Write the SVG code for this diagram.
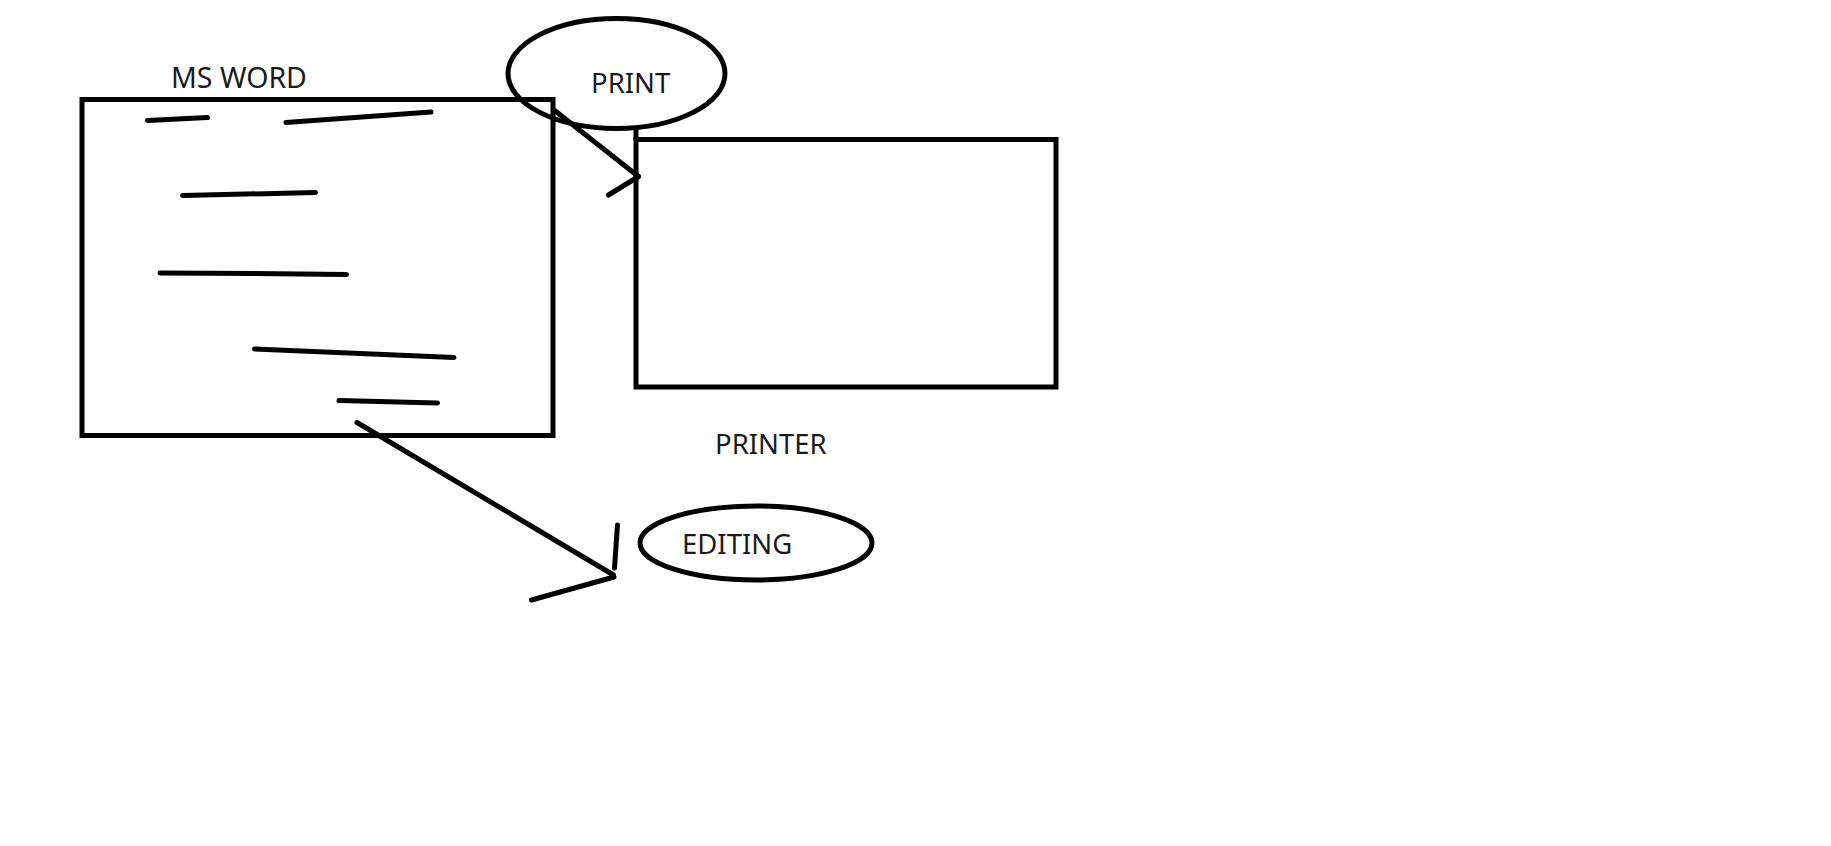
<svg xmlns="http://www.w3.org/2000/svg" width="1831" height="846" viewBox="0 0 1831 846">
<style>
.shape{fill:none;stroke:#000;stroke-width:5}
.ink{fill:none;stroke:#000;stroke-width:5;stroke-linecap:round;stroke-linejoin:round}
.lbl{font-family:"Noto Sans","Open Sans",sans-serif;font-size:27.5px;fill:#1a1a1a}
</style>
<rect width="1831" height="846" fill="#fff"/>
<g id="msword">
<rect class="shape" x="82" y="99.5" width="471" height="336"/>
<text class="lbl" x="171" y="88" style="font-size:28.5px">MS WORD</text>
<polyline class="ink" points="147.5,120.5 207.5,117.5"/>
<polyline class="ink" points="286,122.5 431,112"/>
<polyline class="ink" points="182.5,195.5 315.5,192.5"/>
<polyline class="ink" points="160,273 253,273.5 346.5,274.5"/>
<polyline class="ink" points="254.5,349 454,357.5"/>
<polyline class="ink" points="339,400.5 437.5,403"/>
</g>
<g id="print">
<ellipse class="shape" cx="616.5" cy="73.5" rx="108.5" ry="55"/>
<text class="lbl" x="591" y="93.3">PRINT</text>
</g>
<g id="printer">
<rect class="shape" x="636" y="139.5" width="420" height="247.5"/>
<line class="shape" x1="636" y1="128" x2="636" y2="140"/>
<text class="lbl" x="715" y="453.5">PRINTER</text>
</g>
<g id="editing">
<ellipse class="shape" cx="756" cy="543" rx="116" ry="37"/>
<text class="lbl" x="682" y="554">EDITING</text>
</g>
<g id="connectors">
<polyline class="ink" points="554,110 638.5,176.5"/>
<polyline class="ink" points="638.5,176.5 608.5,195"/>
<polyline class="ink" points="357,422.5 613.5,575"/>
<polyline class="ink" points="614,577 531.5,600"/>
<polyline class="ink" points="617.5,525 614.5,568"/>
</g>
</svg>
